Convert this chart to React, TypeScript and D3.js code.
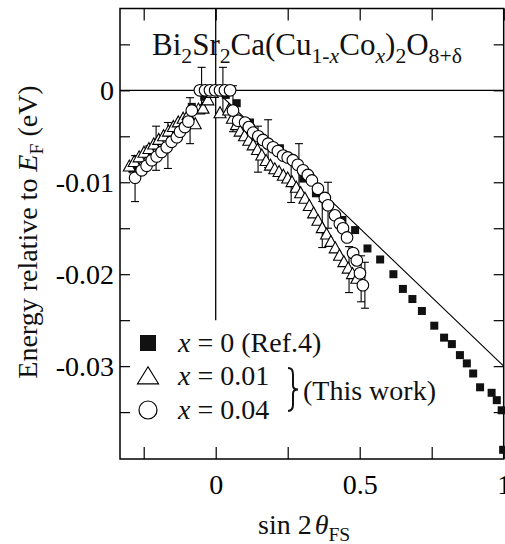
import React, { useEffect, useRef } from "react";
import * as d3 from "d3";

// x = 0 (Ref.4), filled squares
const refSquares: [number, number][] = [
  [-0.29, -0.0085], [-0.23, -0.0064], [-0.17, -0.0048], [-0.124, -0.0036], [-0.083, -0.0018],
  [-0.04, -0.0007], [0.0, 0.0], [0.035, -0.0005], [0.073, -0.0014], [0.119, -0.0035],
  [0.223, -0.0063], [0.304, -0.0096], [0.348, -0.0112], [0.44, -0.0141], [0.484, -0.0152],
  [0.527, -0.0172], [0.571, -0.0184], [0.617, -0.02], [0.65, -0.0216], [0.683, -0.0227],
  [0.716, -0.0240], [0.759, -0.0256], [0.793, -0.0269], [0.820, -0.0276], [0.848, -0.0288],
  [0.872, -0.0297], [0.894, -0.0308], [0.918, -0.0323], [0.958, -0.0329], [0.976, -0.0337],
  [0.993, -0.0348], [0.998, -0.0391],
];

// x = 0.01, open triangles
const tri01: [number, number][] = [
  [-0.3, -0.0083], [-0.283, -0.0078], [-0.266, -0.0073], [-0.249, -0.0068], [-0.232, -0.0064],
  [-0.215, -0.0059], [-0.198, -0.0054], [-0.181, -0.005], [-0.164, -0.0045], [-0.147, -0.004],
  [-0.13, -0.0035], [-0.113, -0.0031], [-0.096, -0.0027], [-0.071, -0.0037], [-0.06, -0.0021],
  [-0.044, -0.002], [-0.027, -0.0011], [-0.012, -0.0003], [0.015, -0.0025], [0.045, -0.0022],
  [0.058, -0.0031], [0.072, -0.0038], [0.085, -0.0045], [0.1, -0.005], [0.115, -0.0055],
  [0.13, -0.006], [0.145, -0.0065], [0.16, -0.0071], [0.175, -0.0077], [0.19, -0.0082],
  [0.205, -0.0086], [0.22, -0.0089], [0.235, -0.0093], [0.25, -0.0096], [0.265, -0.01],
  [0.28, -0.0106], [0.295, -0.0112], [0.31, -0.0118], [0.325, -0.0126], [0.34, -0.0134],
  [0.355, -0.0142], [0.37, -0.015], [0.385, -0.0157], [0.4, -0.0165], [0.415, -0.0172],
  [0.43, -0.018], [0.445, -0.0187], [0.46, -0.0194], [0.475, -0.02], [0.49, -0.0205],
];

// x = 0.04, open circles
const circ04: [number, number][] = [
  [-0.28, -0.0095], [-0.257, -0.0087], [-0.24, -0.0082], [-0.222, -0.0076], [-0.205, -0.0072],
  [-0.188, -0.0067], [-0.17, -0.0062], [-0.153, -0.0056], [-0.135, -0.0051], [-0.124, -0.0045],
  [-0.107, -0.004], [-0.095, -0.0034], [-0.083, -0.0022], [-0.055, 0], [-0.037, 0],
  [-0.02, 0], [-0.002, 0], [0.015, 0], [0.032, 0], [0.05, 0],
  [0.06, -0.0022], [0.078, -0.0033], [0.102, -0.0035], [0.115, -0.004], [0.13, -0.0046],
  [0.148, -0.005], [0.164, -0.0054], [0.182, -0.0058], [0.199, -0.0062], [0.216, -0.0066],
  [0.234, -0.0071], [0.25, -0.0073], [0.268, -0.0076], [0.285, -0.0081], [0.303, -0.0087],
  [0.32, -0.0092], [0.334, -0.0098], [0.355, -0.0107], [0.379, -0.0117], [0.39, -0.0125],
  [0.414, -0.0136], [0.431, -0.0145], [0.442, -0.015], [0.456, -0.016], [0.477, -0.0177],
  [0.49, -0.0185], [0.501, -0.0199], [0.511, -0.0212],
];

// error bars: [x, centre, half-length]
const errorBars: [number, number, number][] = [
  [-0.28, -0.0096, 0.0025], [-0.207, -0.0063, 0.0024], [-0.166, -0.006, 0.0025],
  [-0.089, -0.0033, 0.0025], [-0.049, 0, 0.0025], [0.025, 0, 0.0025], [0.06, -0.002, 0.0025],
  [0.147, -0.0064, 0.0025], [0.182, -0.0058, 0.0026], [0.262, -0.0097, 0.0025],
  [0.289, -0.0083, 0.0025], [0.37, -0.0146, 0.0025], [0.39, -0.0125, 0.0025],
  [0.463, -0.0195, 0.0025], [0.505, -0.0205, 0.0025], [0.518, -0.0212, 0.0025],
];

const guideLine: [number, number][] = [[-0.3, -0.009], [0, 0], [1, -0.03]];

const xTicks = [-0.25, 0, 0.25, 0.5, 0.75, 1];
const xTickLabels = [0, 0.5, 1];
const yTicks = [0.005, 0, -0.005, -0.01, -0.015, -0.02, -0.025, -0.03, -0.035];
const yTickLabels = [0, -0.01, -0.02, -0.03];
const legendLabels = ["0 (Ref.4)", "0.01", "0.04"];

const FONT = "'Liberation Serif', 'Times New Roman', serif";

type Part = { t: string; sub?: boolean; it?: boolean; dx?: number };

function richText(sel: any, parts: Part[], size: number, shift: number) {
  let cur = 0;
  parts.forEach((p) => {
    const target = p.sub ? shift : 0;
    sel
      .append("tspan")
      .attr("dy", target - cur)
      .attr("dx", p.dx || 0)
      .attr("font-size", p.sub ? size * 0.7 : size)
      .attr("font-style", p.it ? "italic" : "normal")
      .text(p.t);
    cur = target;
  });
}

export default function App() {
  const ref = useRef<SVGSVGElement>(null);

  useEffect(() => {
    const svg = d3.select(ref.current);
    svg.selectAll("*").remove();

    const left = 120, right = 503.7, top = 8.5, bottom = 459;
    const x = d3.scaleLinear().domain([-0.3323, 1]).range([left, right]);
    const y = d3.scaleLinear().domain([-0.0401, 0.0089]).range([bottom, top]);

    svg.append("rect").attr("width", 505).attr("height", 544).attr("fill", "#fff");

    // axes with inward ticks
    const fmt = (d: any) => (d === 0 ? "0" : String(d));
    const styleAxis = (g: any) => {
      g.select(".domain").remove();
      g.attr("font-size", 28).attr("font-family", FONT);
      g.selectAll("line").attr("stroke-width", 1.2);
    };
    svg.append("g").attr("transform", `translate(0,${bottom})`)
      .call(d3.axisBottom(x).tickValues(xTicks).tickSize(-12).tickPadding(15)
        .tickFormat((d: any) => (xTickLabels.includes(d) ? fmt(d) : "")))
      .call(styleAxis);
    svg.append("g").attr("transform", `translate(0,${top})`)
      .call(d3.axisTop(x).tickValues(xTicks).tickSize(-12).tickFormat(() => ""))
      .call(styleAxis);
    svg.append("g").attr("transform", `translate(${left},0)`)
      .call(d3.axisLeft(y).tickValues(yTicks).tickSize(-10).tickPadding(6)
        .tickFormat((d: any) => (yTickLabels.includes(d) ? (d === 0 ? "0" : d.toFixed(2)) : "")))
      .call(styleAxis);
    svg.append("g").attr("transform", `translate(${right},0)`)
      .call(d3.axisRight(y).tickValues(yTicks).tickSize(-10).tickFormat(() => ""))
      .call(styleAxis);

    svg.append("rect")
      .attr("x", left).attr("y", top)
      .attr("width", right - left).attr("height", bottom - top)
      .attr("fill", "none").attr("stroke", "#000").attr("stroke-width", 1.5);

    // reference lines
    svg.append("line")
      .attr("x1", left).attr("x2", right).attr("y1", y(0)).attr("y2", y(0))
      .attr("stroke", "#000").attr("stroke-width", 1.3);
    svg.append("line")
      .attr("x1", x(0)).attr("x2", x(0)).attr("y1", top).attr("y2", y(-0.025))
      .attr("stroke", "#000").attr("stroke-width", 1.3);
    svg.append("path")
      .attr("d", d3.line().x((d: any) => x(d[0])).y((d: any) => y(d[1]))(guideLine))
      .attr("fill", "none").attr("stroke", "#000").attr("stroke-width", 1.1);

    // error bars
    const eb = svg.append("g").attr("stroke", "#000").attr("stroke-width", 1.1);
    errorBars.forEach(([bx, by, e]) => {
      const px = x(bx);
      eb.append("line").attr("x1", px).attr("x2", px).attr("y1", y(by + e)).attr("y2", y(by - e));
      eb.append("line").attr("x1", px - 4).attr("x2", px + 4).attr("y1", y(by + e)).attr("y2", y(by + e));
      eb.append("line").attr("x1", px - 4).attr("x2", px + 4).attr("y1", y(by - e)).attr("y2", y(by - e));
    });

    const triPath = (cx: number, cy: number, w: number, h: number) =>
      `M${cx},${cy - h * 0.6}L${cx + w / 2},${cy + h * 0.4}L${cx - w / 2},${cy + h * 0.4}Z`;

    // markers
    svg.append("g").selectAll("rect").data(refSquares).enter().append("rect")
      .attr("x", (d) => x(d[0]) - 4).attr("y", (d) => y(d[1]) - 4)
      .attr("width", 8).attr("height", 8).attr("fill", "#111");

    svg.append("g").selectAll("path").data(tri01).enter().append("path")
      .attr("d", (d) => triPath(x(d[0]), y(d[1]), 12, 11))
      .attr("fill", "#fff").attr("stroke", "#000").attr("stroke-width", 1.1);

    svg.append("g").selectAll("circle").data(circ04).enter().append("circle")
      .attr("cx", (d) => x(d[0])).attr("cy", (d) => y(d[1])).attr("r", 5.8)
      .attr("fill", "#fff").attr("stroke", "#000").attr("stroke-width", 1.1);

    // title
    const title = svg.append("text").attr("x", 152).attr("y", 55)
      .attr("font-family", FONT).attr("fill", "#111");
    richText(title, [
      { t: "Bi" }, { t: "2", sub: true }, { t: "Sr" }, { t: "2", sub: true },
      { t: "Ca(Cu" }, { t: "1-", sub: true }, { t: "x", sub: true, it: true },
      { t: "Co" }, { t: "x", sub: true, it: true }, { t: ")" }, { t: "2", sub: true },
      { t: "O" }, { t: "8+δ", sub: true },
    ], 31, 8);

    // legend
    const lx = 148;
    const rows = [343, 376, 410];
    svg.append("rect").attr("x", lx - 8).attr("y", rows[0] - 8).attr("width", 16).attr("height", 16).attr("fill", "#111");
    svg.append("path").attr("d", triPath(lx, rows[1] + 1, 21, 17))
      .attr("fill", "#fff").attr("stroke", "#000").attr("stroke-width", 1.2);
    svg.append("circle").attr("cx", lx).attr("cy", rows[2]).attr("r", 9)
      .attr("fill", "#fff").attr("stroke", "#000").attr("stroke-width", 1.2);
    legendLabels.forEach((lab, i) => {
      const t = svg.append("text").attr("x", 178).attr("y", rows[i] + 9)
        .attr("font-family", FONT).attr("fill", "#111");
      richText(t, [{ t: "x", it: true }, { t: " = " + lab }], 28, 0);
    });

    // curly brace grouping the two measurements
    const bx0 = 288, bw = 10, by0 = 368, by1 = 411, bym = (by0 + by1) / 2, bh = by1 - by0;
    const bxm = bx0 + bw / 2;
    svg.append("path")
      .attr("d",
        `M${bx0},${by0}Q${bxm},${by0} ${bxm},${by0 + bh * 0.15}` +
        `L${bxm},${bym - bh * 0.1}Q${bxm},${bym} ${bx0 + bw},${bym}` +
        `Q${bxm},${bym} ${bxm},${bym + bh * 0.1}` +
        `L${bxm},${by1 - bh * 0.15}Q${bxm},${by1} ${bx0},${by1}`)
      .attr("fill", "none").attr("stroke", "#111").attr("stroke-width", 2);
    svg.append("text").attr("x", 303).attr("y", 400)
      .attr("font-family", FONT).attr("font-size", 28).attr("fill", "#111").text("(This work)");

    // axis titles
    const xt = svg.append("text").attr("x", 258).attr("y", 534)
      .attr("font-family", FONT).attr("fill", "#111");
    richText(xt, [{ t: "sin 2" }, { t: "θ", it: true, dx: 3 }, { t: "FS", sub: true }], 28, 7);

    const yt = svg.append("text").attr("transform", "translate(37,232) rotate(-90)")
      .attr("text-anchor", "middle").attr("font-family", FONT).attr("fill", "#111");
    richText(yt, [
      { t: "Energy relative to " }, { t: "E", it: true }, { t: "F", sub: true }, { t: " (eV)" },
    ], 28, 6);
  }, []);

  return (
    <svg ref={ref} width={505} height={544}
      style={{ position: "absolute", left: 0, top: 0, display: "block" }} />
  );
}
